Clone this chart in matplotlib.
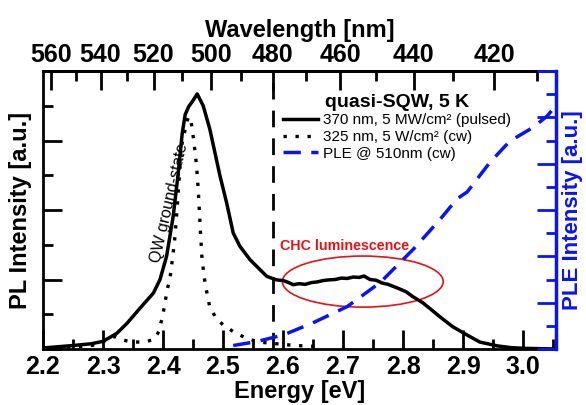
import numpy as np
import matplotlib
matplotlib.use("Agg")
import matplotlib.pyplot as plt
from matplotlib.patches import Ellipse
from matplotlib.ticker import MultipleLocator, FixedLocator

plt.rcParams['font.family'] = ['Liberation Sans', 'DejaVu Sans']

# PL, 370 nm pulsed (solid)
pl_energy = [2.20, 2.25, 2.28, 2.30, 2.323, 2.34, 2.362, 2.384, 2.395, 2.406, 2.417,
             2.425, 2.432, 2.437, 2.443, 2.45, 2.457, 2.467, 2.478, 2.495, 2.506,
             2.517, 2.528, 2.545, 2.573, 2.589, 2.60, 2.607, 2.617, 2.627, 2.637,
             2.647, 2.657, 2.667, 2.677, 2.687, 2.697, 2.707, 2.717, 2.727, 2.735,
             2.745, 2.755, 2.765, 2.775, 2.79, 2.805, 2.817, 2.833, 2.848, 2.862,
             2.883, 2.907, 2.928, 2.957, 2.98, 3.0, 3.055]
pl_pulsed = [0.03, 0.10, 0.15, 0.22, 0.45, 0.74, 1.18, 1.61, 2.0, 2.67, 3.82,
             5.0, 6.2, 6.75, 6.98, 7.15, 7.34, 7.0, 6.33, 4.98, 4.21,
             3.34, 2.96, 2.57, 2.09, 1.99, 1.97, 1.93, 1.85, 1.88, 1.86,
             1.91, 1.93, 1.97, 1.99, 2.0, 2.04, 2.03, 2.07, 2.06, 2.1,
             2.0, 1.98, 1.9, 1.86, 1.76, 1.65, 1.5, 1.33, 1.12, 0.92,
             0.64, 0.4, 0.2, 0.09, 0.04, 0.02, 0.0]

# PL, 325 nm cw (dotted)
cw_energy = [2.20, 2.25, 2.29, 2.31, 2.32, 2.335, 2.35, 2.37, 2.385, 2.393, 2.40,
             2.407, 2.412, 2.417, 2.42, 2.423, 2.428, 2.431, 2.437, 2.442, 2.446,
             2.451, 2.456, 2.459, 2.462, 2.465, 2.47, 2.478, 2.49, 2.50, 2.517,
             2.54, 2.56, 2.59, 2.62, 2.65]
pl_cw = [0.02, 0.05, 0.12, 0.3, 0.36, 0.25, 0.2, 0.2, 0.28, 0.5, 1.0,
         1.7, 2.08, 2.77, 3.25, 3.92, 5.17, 5.85, 6.33, 6.67, 6.65,
         6.03, 5.27, 4.5, 3.5, 2.6, 1.9, 1.2, 0.85, 0.7, 0.5,
         0.3, 0.2, 0.15, 0.1, 0.08]

# PLE @ 510 nm (dashed blue, right axis)
ple_energy = [2.517, 2.556, 2.60, 2.65, 2.707, 2.762, 2.817, 2.862, 2.89, 2.907,
              2.945, 2.978, 3.017, 3.04, 3.057]
ple = [0.15, 0.32, 0.6, 1.13, 1.83, 2.87, 4.3, 5.6, 6.48, 6.78,
       8.06, 8.97, 9.57, 10.05, 10.57]

wl_major = [560, 540, 520, 500, 480, 460, 440, 420]
wl_minor = [550, 530, 510, 490, 470, 450, 430, 410]

blue = '#0a14f0'
red = '#e8101a'

fig = plt.figure(figsize=(5.86, 4.05), dpi=100)
ax = fig.add_axes([43/586, 1-349/405, 513/586, 278/405])

ax.plot(pl_energy, pl_pulsed, color='black', lw=2.5,
        label='370 nm, 5 MW/cm² (pulsed)')
ax.plot(cw_energy, pl_cw, color='black', lw=2.4, ls=(0, (1, 2.6)),
        label='325 nm, 5 W/cm² (cw)')
ax.axvline(2.583, color='black', lw=2, ls=(0, (6, 4)))

ax.set_xlim(2.2, 3.055)
ax.set_ylim(0, 8)
ax.xaxis.set_major_locator(MultipleLocator(0.1))
ax.xaxis.set_minor_locator(MultipleLocator(0.05))
ax.yaxis.set_major_locator(MultipleLocator(2))
ax.yaxis.set_minor_locator(MultipleLocator(1))
ax.set_yticklabels([])
ax.tick_params(which='both', direction='in', width=2, top=False, right=False)
ax.tick_params(which='major', length=14, labelsize=18, pad=4)
ax.tick_params(which='minor', length=7)
for lab in ax.get_xticklabels():
    lab.set_fontweight('bold')
for s in ax.spines.values():
    s.set_linewidth(2)
ax.set_xlabel('Energy [eV]', fontsize=17, fontweight='bold', labelpad=1)
ax.set_ylabel('PL Intensity [a.u.]', fontsize=17, fontweight='bold', labelpad=4)

# top wavelength axis
top = ax.secondary_xaxis('top', functions=(lambda e: 1239.84 / np.asarray(e),
                                           lambda w: 1239.84 / np.asarray(w)))
top.xaxis.set_major_locator(FixedLocator(wl_major))
top.xaxis.set_minor_locator(FixedLocator(wl_minor))
top.tick_params(which='both', direction='in', width=2)
top.tick_params(which='major', length=14, labelsize=18, pad=3)
top.tick_params(which='minor', length=7)
for lab in top.get_xticklabels():
    lab.set_fontweight('bold')
top.spines['top'].set_linewidth(2)
top.set_xlabel('Wavelength [nm]', fontsize=17, fontweight='bold', labelpad=4)

# right PLE axis
ax2 = ax.twinx()
ple_line, = ax2.plot(ple_energy, ple, color=blue, lw=2.5, ls=(0, (5, 3)),
                     label='PLE @ 510nm (cw)')
ax2.set_ylim(0, 12)
ax2.yaxis.set_major_locator(MultipleLocator(2))
ax2.yaxis.set_minor_locator(MultipleLocator(1))
ax2.set_yticklabels([])
ax2.tick_params(which='both', direction='in', width=2, color=blue)
ax2.tick_params(which='major', length=14)
ax2.tick_params(which='minor', length=7)
ax2.spines['right'].set_color(blue)
ax2.spines['right'].set_linewidth(2.5)
ax2.spines['left'].set_visible(False)
for k in ['top', 'bottom']:
    ax2.spines[k].set_color(blue)
    ax2.spines[k].set_linewidth(2)
    ax2.spines[k].set_bounds(3.027, 3.055)
ax2.set_ylabel('PLE Intensity [a.u.]', fontsize=16, fontweight='bold',
               color=blue, labelpad=1)

# annotations
ax.add_patch(Ellipse((2.733, 1.94), 0.268, 1.47, fill=False, ec=red, lw=1.2))
ax.text(2.595, 2.95, 'CHC luminescence', color=red, fontsize=10.3,
        fontweight='bold', ha='left', va='center')
ax.text(2.41, 4.2, 'QW ground-state', rotation=77, fontsize=11.5,
        ha='center', va='center', rotation_mode='anchor')

h1, l1 = ax.get_legend_handles_labels()
leg = ax.legend(h1 + [ple_line], l1 + [ple_line.get_label()],
                title='quasi-SQW, 5 K', loc='upper left',
                bbox_to_anchor=(0.462, 0.93), frameon=False, fontsize=11,
                handlelength=2.3, handletextpad=0.3, labelspacing=0.18,
                borderaxespad=0, borderpad=0.2)
leg.get_title().set_fontsize(14)
leg.get_title().set_fontweight('bold')

fig.savefig('out.png', dpi=100)
